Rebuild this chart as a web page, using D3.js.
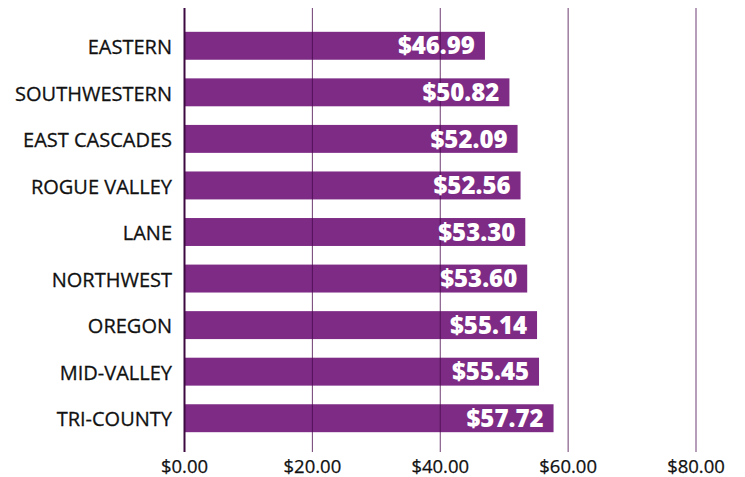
<!DOCTYPE html>
<head>
  <meta charset="utf-8">
  <style>
    body { margin: 0; background: #fff; }
    .cat text { font: 500 20px "Open Sans", sans-serif; fill: #111; text-anchor: end; stroke: #111; stroke-width: 0.3px; }
    .xaxis text { font: 500 18.5px "Open Sans", sans-serif; fill: #111; text-anchor: middle; stroke: #111; stroke-width: 0.25px; }
    .val { font: 800 24px "Open Sans", sans-serif; fill: #fff; text-anchor: end; }
  </style>
</head>
<body>
  <svg width="745" height="477"></svg>
  <script src="https://d3js.org/d3.v7.min.js"></script>
  <script>

  var regions = ["EASTERN", "SOUTHWESTERN", "EAST CASCADES", "ROGUE VALLEY", "LANE",
                 "NORTHWEST", "OREGON", "MID-VALLEY", "TRI-COUNTY"];
  var wages = [46.99, 50.82, 52.09, 52.56, 53.30, 53.60, 55.14, 55.45, 57.72];
  var ticks = [0, 20, 40, 60, 80];

  var svg = d3.select("svg");

  var x = d3.scaleLinear().domain([0, 80]).range([184.5, 696]);
  var y = d3.scaleBand().domain(regions).range([22.5, 441.5]).paddingInner(0.4).paddingOuter(0.2);

  var fmt = function(v) { return "$" + v.toFixed(2); };

  // bars
  svg.append("g").selectAll("rect")
    .data(regions)
    .enter().append("rect")
      .attr("x", x(0))
      .attr("y", function(d) { return y(d); })
      .attr("width", function(d, i) { return x(wages[i]) - x(0); })
      .attr("height", y.bandwidth())
      .attr("fill", "#7d2b85");

  // gridlines drawn over the bars
  svg.append("g").selectAll("line")
    .data(ticks.slice(1))
    .enter().append("line")
      .attr("x1", function(d) { return x(d); })
      .attr("x2", function(d) { return x(d); })
      .attr("y1", 8)
      .attr("y2", 452)
      .attr("stroke", "#4a0a4e")
      .attr("stroke-opacity", 0.8)
      .attr("stroke-width", 1);

  svg.append("line")
    .attr("x1", x(0)).attr("x2", x(0))
    .attr("y1", 8).attr("y2", 452)
    .attr("stroke", "#3d0a40")
    .attr("stroke-width", 2);

  // value labels
  svg.append("g").selectAll("text")
    .data(regions)
    .enter().append("text")
      .attr("class", "val")
      .attr("x", function(d, i) { return x(wages[i]) - 10; })
      .attr("y", function(d) { return y(d) + y.bandwidth() / 2; })
      .attr("dy", "0.36em")
      .text(function(d, i) { return fmt(wages[i]); });

  // category labels
  svg.append("g").attr("class", "cat").selectAll("text")
    .data(regions)
    .enter().append("text")
      .attr("x", 172)
      .attr("y", function(d) { return y(d) + y.bandwidth() / 2 + 1; })
      .attr("dy", "0.36em")
      .text(function(d) { return d; });

  // x axis labels
  svg.append("g").attr("class", "xaxis").selectAll("text")
    .data(ticks)
    .enter().append("text")
      .attr("x", function(d) { return x(d); })
      .attr("y", 466)
      .attr("dy", "0.36em")
      .text(fmt);

  </script>
</body>
</html>
